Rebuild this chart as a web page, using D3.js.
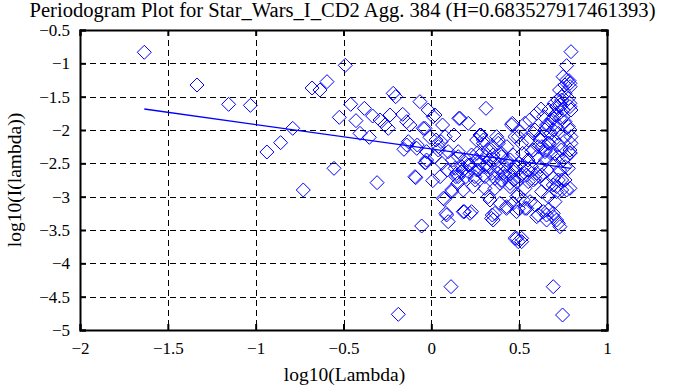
<!DOCTYPE html>
<html>
<head>
<meta charset="utf-8">
<script src="https://cdn.jsdelivr.net/npm/d3@7"></script>
<style>
  html, body { margin: 0; padding: 0; background: #fff; }
  svg { display: block; font-family: "Liberation Serif", "DejaVu Serif", serif; }
</style>
</head>
<body>
<div id="chart"></div>
<script>
// Periodogram points, [log10(lambda), log10(I(lambda))]
const lowFreqPoints = [
  [-1.634, -0.834], [-1.334, -1.325], [-1.154, -1.615], [-1.030, -1.63],
  [-0.936, -2.33], [-0.858, -2.19], [-0.789, -1.975], [-0.729, -2.90],
  [-0.679, -1.37], [-0.634, -1.40], [-0.594, -1.275], [-0.554, -2.575],
  [-0.524, -1.81], [-0.490, -1.03], [-0.459, -1.615], [-0.429, -1.86],
  [-0.406, -2.05], [-0.381, -1.675], [-0.353, -2.11], [-0.334, -1.79],
  [-0.309, -2.79], [-0.292, -1.85], [-0.264, -1.925], [-0.245, -1.975],
  [-0.235, -1.775], [-0.217, -1.45], [-0.203, -1.50], [-0.188, -4.765],
  [-0.163, -1.765], [-0.156, -2.29], [-0.140, -1.875], [-0.140, -2.225],
  [-0.131, -2.175], [-0.122, -1.925], [-0.093, -2.70], [-0.089, -2.715],
  [-0.083, -2.275], [-0.080, -2.225], [-0.065, -1.575], [-0.055, -3.44],
  [-0.046, -1.975], [-0.036, -2.49], [-0.036, -1.975], [-0.032, -2.49],
  [-0.027, -2.325], [-0.027, -2.45], [-0.018, -1.70], [-0.008, -2.11],
  [0.008, -2.76], [0.011, -1.80], [0.021, -1.775], [0.027, -2.15]
];

const midFreqPoints = [
  [0.040, -2.30], [0.040, -2.25], [0.055, -2.175], [0.064, -1.925],
  [0.068, -3.025], [0.074, -3.04], [0.078, -2.10], [0.083, -3.25],
  [0.087, -3.275], [0.096, -3.375], [0.096, -2.325], [0.112, -4.35],
  [0.116, -2.925], [0.116, -2.90], [0.129, -2.075], [0.135, -2.575],
  [0.140, -2.70], [0.144, -2.65], [0.153, -2.40], [0.153, -2.325],
  [0.153, -2.70], [0.157, -1.825], [0.163, -1.825], [0.173, -2.55],
  [0.173, -2.625], [0.182, -2.90], [0.182, -3.225], [0.188, -3.225],
  [0.197, -2.70], [0.210, -1.90], [0.210, -2.625], [0.210, -2.525],
  [0.220, -2.525], [0.220, -3.25], [0.229, -2.375], [0.229, -3.225],
  [0.239, -2.85], [0.248, -2.70], [0.258, -2.45], [0.258, -2.15],
  [0.258, -2.60], [0.267, -2.60], [0.277, -2.075], [0.277, -2.50],
  [0.283, -2.075], [0.287, -2.35], [0.296, -2.15], [0.296, -2.20],
  [0.296, -2.675], [0.305, -2.875], [0.305, -2.70], [0.311, -1.675],
  [0.315, -2.55], [0.324, -2.30], [0.324, -3.0], [0.334, -2.45],
  [0.334, -2.55], [0.334, -3.05], [0.343, -2.65], [0.343, -3.325],
  [0.347, -3.275], [0.352, -2.375], [0.352, -3.35], [0.362, -2.875],
  [0.362, -2.725], [0.362, -3.25], [0.372, -2.10], [0.381, -2.20],
  [0.381, -2.15], [0.381, -2.575], [0.391, -2.80], [0.391, -3.10],
  [0.400, -2.40], [0.400, -2.75], [0.410, -2.65], [0.419, -2.625],
  [0.419, -2.70], [0.428, -2.45], [0.428, -3.15], [0.428, -3.175],
  [0.448, -2.80], [0.448, -2.85], [0.457, -1.925], [0.461, -1.90],
  [0.466, -2.375], [0.466, -3.10], [0.476, -2.10], [0.476, -2.60],
  [0.476, -3.625], [0.485, -3.225], [0.486, -2.775], [0.486, -3.0],
  [0.486, -3.625], [0.495, -2.10], [0.495, -2.975], [0.495, -3.175],
  [0.495, -3.675]
];

const highFreqPoints = [
  [0.505, -2.025], [0.514, -2.20], [0.514, -2.675], [0.514, -3.625],
  [0.514, -3.675], [0.524, -3.05], [0.533, -1.90], [0.533, -2.875],
  [0.533, -3.175], [0.543, -2.675], [0.543, -3.175], [0.552, -2.15],
  [0.552, -2.775], [0.562, -3.075], [0.571, -2.325], [0.581, -2.05],
  [0.581, -2.75], [0.590, -2.725], [0.590, -3.125], [0.600, -3.30],
  [0.609, -2.25], [0.609, -3.275], [0.619, -2.15], [0.619, -2.70],
  [0.624, -1.685], [0.628, -2.675], [0.628, -2.925], [0.638, -3.225],
  [0.647, -2.0], [0.647, -2.325], [0.656, -1.925], [0.656, -2.80],
  [0.656, -3.275], [0.656, -3.35], [0.666, -1.925], [0.666, -2.20],
  [0.666, -3.0], [0.666, -3.20], [0.685, -1.85], [0.694, -1.825],
  [0.694, -2.0], [0.694, -2.725], [0.694, -2.825], [0.694, -3.25],
  [0.694, -3.30], [0.694, -4.35], [0.704, -1.775], [0.704, -2.35],
  [0.704, -3.075], [0.713, -1.65], [0.713, -1.75], [0.713, -2.85],
  [0.713, -2.925], [0.713, -3.35], [0.723, -2.05], [0.723, -2.225],
  [0.723, -2.75], [0.723, -3.40], [0.732, -1.625], [0.732, -1.825],
  [0.732, -3.45], [0.742, -1.50], [0.742, -1.55], [0.742, -2.75],
  [0.742, -2.90], [0.747, -4.775], [0.751, -1.70], [0.751, -1.80],
  [0.761, -1.325], [0.761, -1.45], [0.761, -1.875], [0.761, -2.10],
  [0.761, -2.55], [0.761, -2.75], [0.770, -1.035], [0.770, -1.25],
  [0.770, -2.90], [0.780, -1.525], [0.780, -1.95], [0.780, -2.575],
  [0.784, -1.26], [0.789, -1.30], [0.789, -1.60], [0.789, -1.65],
  [0.789, -2.0], [0.789, -2.30], [0.789, -2.34], [0.789, -2.35],
  [0.789, -2.875], [0.790, -1.35], [0.795, -0.825], [0.795, -1.70],
  [0.795, -2.10], [0.795, -2.20]
];

// dense core of the cloud, where single diamonds overlap
const densePoints = [
  [0.02, -2.40], [0.05, -2.70], [0.06, -2.50], [0.09, -2.60],
  [0.12, -2.45], [0.15, -2.80], [0.18, -2.60], [0.20, -2.45],
  [0.25, -2.75], [0.26, -2.35], [0.30, -2.55], [0.31, -2.40],
  [0.35, -2.25], [0.36, -2.45], [0.38, -2.65], [0.40, -2.35],
  [0.42, -2.55], [0.43, -2.25], [0.45, -2.45], [0.45, -2.65],
  [0.47, -2.75], [0.48, -2.55], [0.50, -2.50], [0.50, -2.70],
  [0.52, -2.35], [0.53, -2.55], [0.55, -2.45], [0.55, -2.60],
  [0.56, -1.85], [0.57, -2.55], [0.58, -2.30], [0.59, -2.00],
  [0.60, -2.40], [0.60, -2.65], [0.60, -1.75], [0.62, -2.55],
  [0.62, -2.10], [0.63, -2.25], [0.64, -1.80], [0.65, -2.45],
  [0.65, -2.30], [0.66, -2.60], [0.67, -2.20], [0.67, -1.70],
  [0.68, -2.35], [0.68, -2.05], [0.70, -2.50], [0.70, -2.15],
  [0.70, -1.60], [0.71, -1.95], [0.72, -2.40], [0.72, -1.55],
  [0.73, -2.60], [0.73, -1.40], [0.74, -2.30], [0.75, -2.45],
  [0.75, -1.20], [0.77, -2.40]
];

const points = [...lowFreqPoints, ...midFreqPoints, ...highFreqPoints, ...densePoints];

// fitted line: slope = 1 - 2H
const hurst = 0.683527917461393;
const fitIntercept = -2.285;
const fitRange = [-1.634, 0.795];

const xTicks = [-2, -1.5, -1, -0.5, 0, 0.5, 1];
const yTicks = [-5, -4.5, -4, -3.5, -3, -2.5, -2, -1.5, -1, -0.5];

const titleText = 'Periodogram Plot for Star_Wars_I_CD2 Agg. 384 (H=0.683527917461393)';
const xLabel = 'log10(Lambda)';
const yLabel = 'log10(I(lambda))';

const W = 687, H = 385;
const m = { left: 80, top: 30, right: 80, bottom: 55 };
const pw = W - m.left - m.right;
const ph = H - m.top - m.bottom;

const x = d3.scaleLinear().domain([-2, 1]).range([0, pw]);
const y = d3.scaleLinear().domain([-5, -0.5]).range([ph, 0]);

const svg = d3.select('#chart').append('svg')
  .attr('width', W).attr('height', H);

svg.append('text')
  .attr('x', m.left + pw / 2 - 1).attr('y', 17)
  .attr('text-anchor', 'middle')
  .attr('font-size', 20)
  .attr('textLength', 626).attr('lengthAdjust', 'spacingAndGlyphs')
  .text(titleText);

const g = svg.append('g').attr('transform', `translate(${m.left},${m.top})`);

// dashed grid
g.selectAll('.gx').data(xTicks.slice(1, -1)).enter().append('line')
  .attr('x1', d => Math.round(x(d)) + 0.5).attr('x2', d => Math.round(x(d)) + 0.5)
  .attr('y1', 0).attr('y2', ph)
  .attr('stroke', '#000').attr('stroke-width', 1).attr('stroke-dasharray', '6,4');
g.selectAll('.gy').data(yTicks.slice(1, -1)).enter().append('line')
  .attr('y1', d => Math.round(y(d)) + 0.5).attr('y2', d => Math.round(y(d)) + 0.5)
  .attr('x1', 0).attr('x2', pw)
  .attr('stroke', '#000').attr('stroke-width', 1).attr('stroke-dasharray', '6,4');

// diamonds
const r = 7;
g.selectAll('.pt').data(points).enter().append('path')
  .attr('d', d => {
    const cx = x(d[0]), cy = y(d[1]);
    return `M${cx},${cy - r}L${cx + r},${cy}L${cx},${cy + r}L${cx - r},${cy}Z`;
  })
  .attr('fill', 'none').attr('stroke', '#0000ff').attr('stroke-width', 1);

// fit line
const slope = 1 - 2 * hurst;
g.append('line')
  .attr('x1', x(fitRange[0])).attr('y1', y(fitIntercept + slope * fitRange[0]))
  .attr('x2', x(fitRange[1])).attr('y2', y(fitIntercept + slope * fitRange[1]))
  .attr('stroke', '#0000ff').attr('stroke-width', 1.3);

// axes, ticks inward on all four sides
const tl = 6;
const minus = d => d3.format('')(d).replace('-', '\u2212');
const axB = g.append('g').attr('transform', `translate(0,${ph})`)
  .call(d3.axisBottom(x).tickValues(xTicks).tickSize(-tl).tickPadding(12).tickFormat(minus));
const axT = g.append('g').call(d3.axisTop(x).tickValues(xTicks).tickSize(-tl).tickFormat(''));
const axL = g.append('g')
  .call(d3.axisLeft(y).tickValues(yTicks).tickSize(-tl).tickPadding(10).tickFormat(minus));
const axR = g.append('g').attr('transform', `translate(${pw},0)`)
  .call(d3.axisRight(y).tickValues(yTicks).tickSize(-tl).tickFormat(''));

[axB, axT, axL, axR].forEach(a => {
  a.select('.domain').attr('stroke', '#000').attr('stroke-width', 2);
  a.selectAll('.tick line').attr('stroke', '#000').attr('stroke-width', 2);
  a.selectAll('text').attr('font-family', '"Liberation Serif", serif')
    .attr('font-size', 17).attr('fill', '#000');
});

svg.append('text')
  .attr('x', m.left + pw / 2 + 1).attr('y', 381)
  .attr('text-anchor', 'middle').attr('font-size', 19.5)
  .text(xLabel);

svg.append('text')
  .attr('transform', `translate(21,${m.top + ph / 2}) rotate(-90)`)
  .attr('text-anchor', 'middle').attr('font-size', 19.5)
  .text(yLabel);
</script>
</body>
</html>
